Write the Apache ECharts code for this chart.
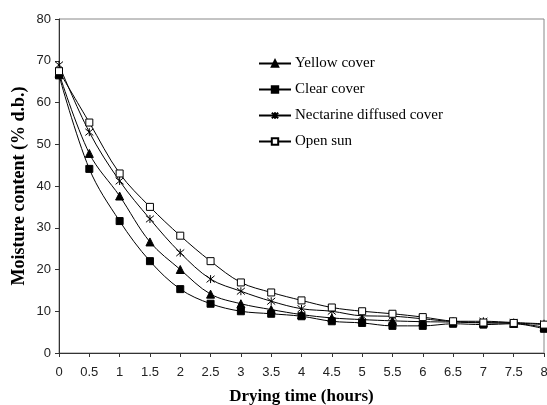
<!DOCTYPE html>
<html><head><meta charset="utf-8">
<script src="https://cdn.jsdelivr.net/npm/echarts@6/dist/echarts.min.js"></script>
<style>html,body{margin:0;padding:0;background:#fff}#c{width:547px;height:405px}</style>
</head><body><div id="c"></div>
<script>
const hours = [0,0.5,1,1.5,2,2.5,3,3.5,4,4.5,5,5.5,6,6.5,7,7.5,8];
const yellowCover = [67,47.8,37.6,26.6,20.0,14.1,11.8,10.4,9.2,8.4,8.0,7.7,7.5,7.4,7.2,7.1,6.2];
const clearCover = [66.5,44.1,31.6,22.0,15.3,11.8,10.0,9.4,8.8,7.6,7.2,6.5,6.5,7.0,6.8,7.0,5.8];
const nectarineCover = [69,52.9,41.2,32.1,24.0,17.7,14.8,12.4,10.6,10.0,8.9,8.8,8.2,7.6,7.6,7.3,7.0];
const openSun = [67.5,55.2,43.0,35.0,28.1,22.0,16.9,14.5,12.6,10.9,10.0,9.4,8.6,7.6,7.3,7.2,6.8];
const seriesNames = ['Yellow cover','Clear cover','Nectarine diffused cover','Open sun'];

const star = 'path://M0,0L10,10M10,0L0,10M5,-1L5,11';
function mk(name, data, symbol, fill, size) {
  return {
    name, type: 'line', smooth: 0.35,
    data: hours.map((h, i) => [h, data[i]]),
    symbol, symbolSize: size,
    lineStyle: { color: '#000', width: 1 },
    itemStyle: { color: fill, borderColor: '#000', borderWidth: 1 },
    z: 3
  };
}
const serif = 'Liberation Serif, Times New Roman, serif';
const sans = 'Liberation Sans, Arial, sans-serif';
const chart = echarts.init(document.getElementById('c'));
chart.setOption({
  animation: false,
  grid: { left: 59, right: 3, top: 19, bottom: 52, show: true, borderColor: '#888', borderWidth: 1,
          containLabel: false, outerBoundsMode: 'none' },
  legend: {
    orient: 'vertical', left: 253, top: 51, itemGap: 11, itemWidth: 32, itemHeight: 8,
    textStyle: { fontFamily: serif, fontSize: 15, color: '#000', padding: [0, 0, 0, -1] },
    data: seriesNames
  },
  xAxis: {
    type: 'value', min: 0, max: 8, interval: 0.5,
    name: 'Drying time (hours)', nameLocation: 'middle', nameGap: 35, nameMoveOverlap: false,
    nameTextStyle: { fontFamily: serif, fontSize: 17, fontWeight: 'bold', color: '#000' },
    axisLine: { lineStyle: { color: '#333', width: 1 } },
    axisTick: { inside: false, length: 4, lineStyle: { color: '#333' } },
    axisLabel: { fontFamily: sans, fontSize: 13, color: '#222', margin: 13 },
    splitLine: { show: false }
  },
  yAxis: {
    type: 'value', min: 0, max: 80, interval: 10,
    name: 'Moisture content (% d.b.)', nameLocation: 'middle', nameGap: 31, nameRotate: 90, nameMoveOverlap: false,
    nameTextStyle: { fontFamily: serif, fontSize: 18, fontWeight: 'bold', color: '#000' },
    axisLine: { show: true, lineStyle: { color: '#333', width: 1 } },
    axisTick: { show: true, length: 4, lineStyle: { color: '#333' } },
    axisLabel: { fontFamily: sans, fontSize: 13, color: '#222', margin: 8 },
    splitLine: { show: false }
  },
  series: [
    mk(seriesNames[0], yellowCover, 'triangle', '#000', 8),
    mk(seriesNames[1], clearCover, 'rect', '#000', 7),
    mk(seriesNames[2], nectarineCover, star, 'none', 8),
    mk(seriesNames[3], openSun, 'rect', '#fff', 7)
  ]
});
</script></body></html>
